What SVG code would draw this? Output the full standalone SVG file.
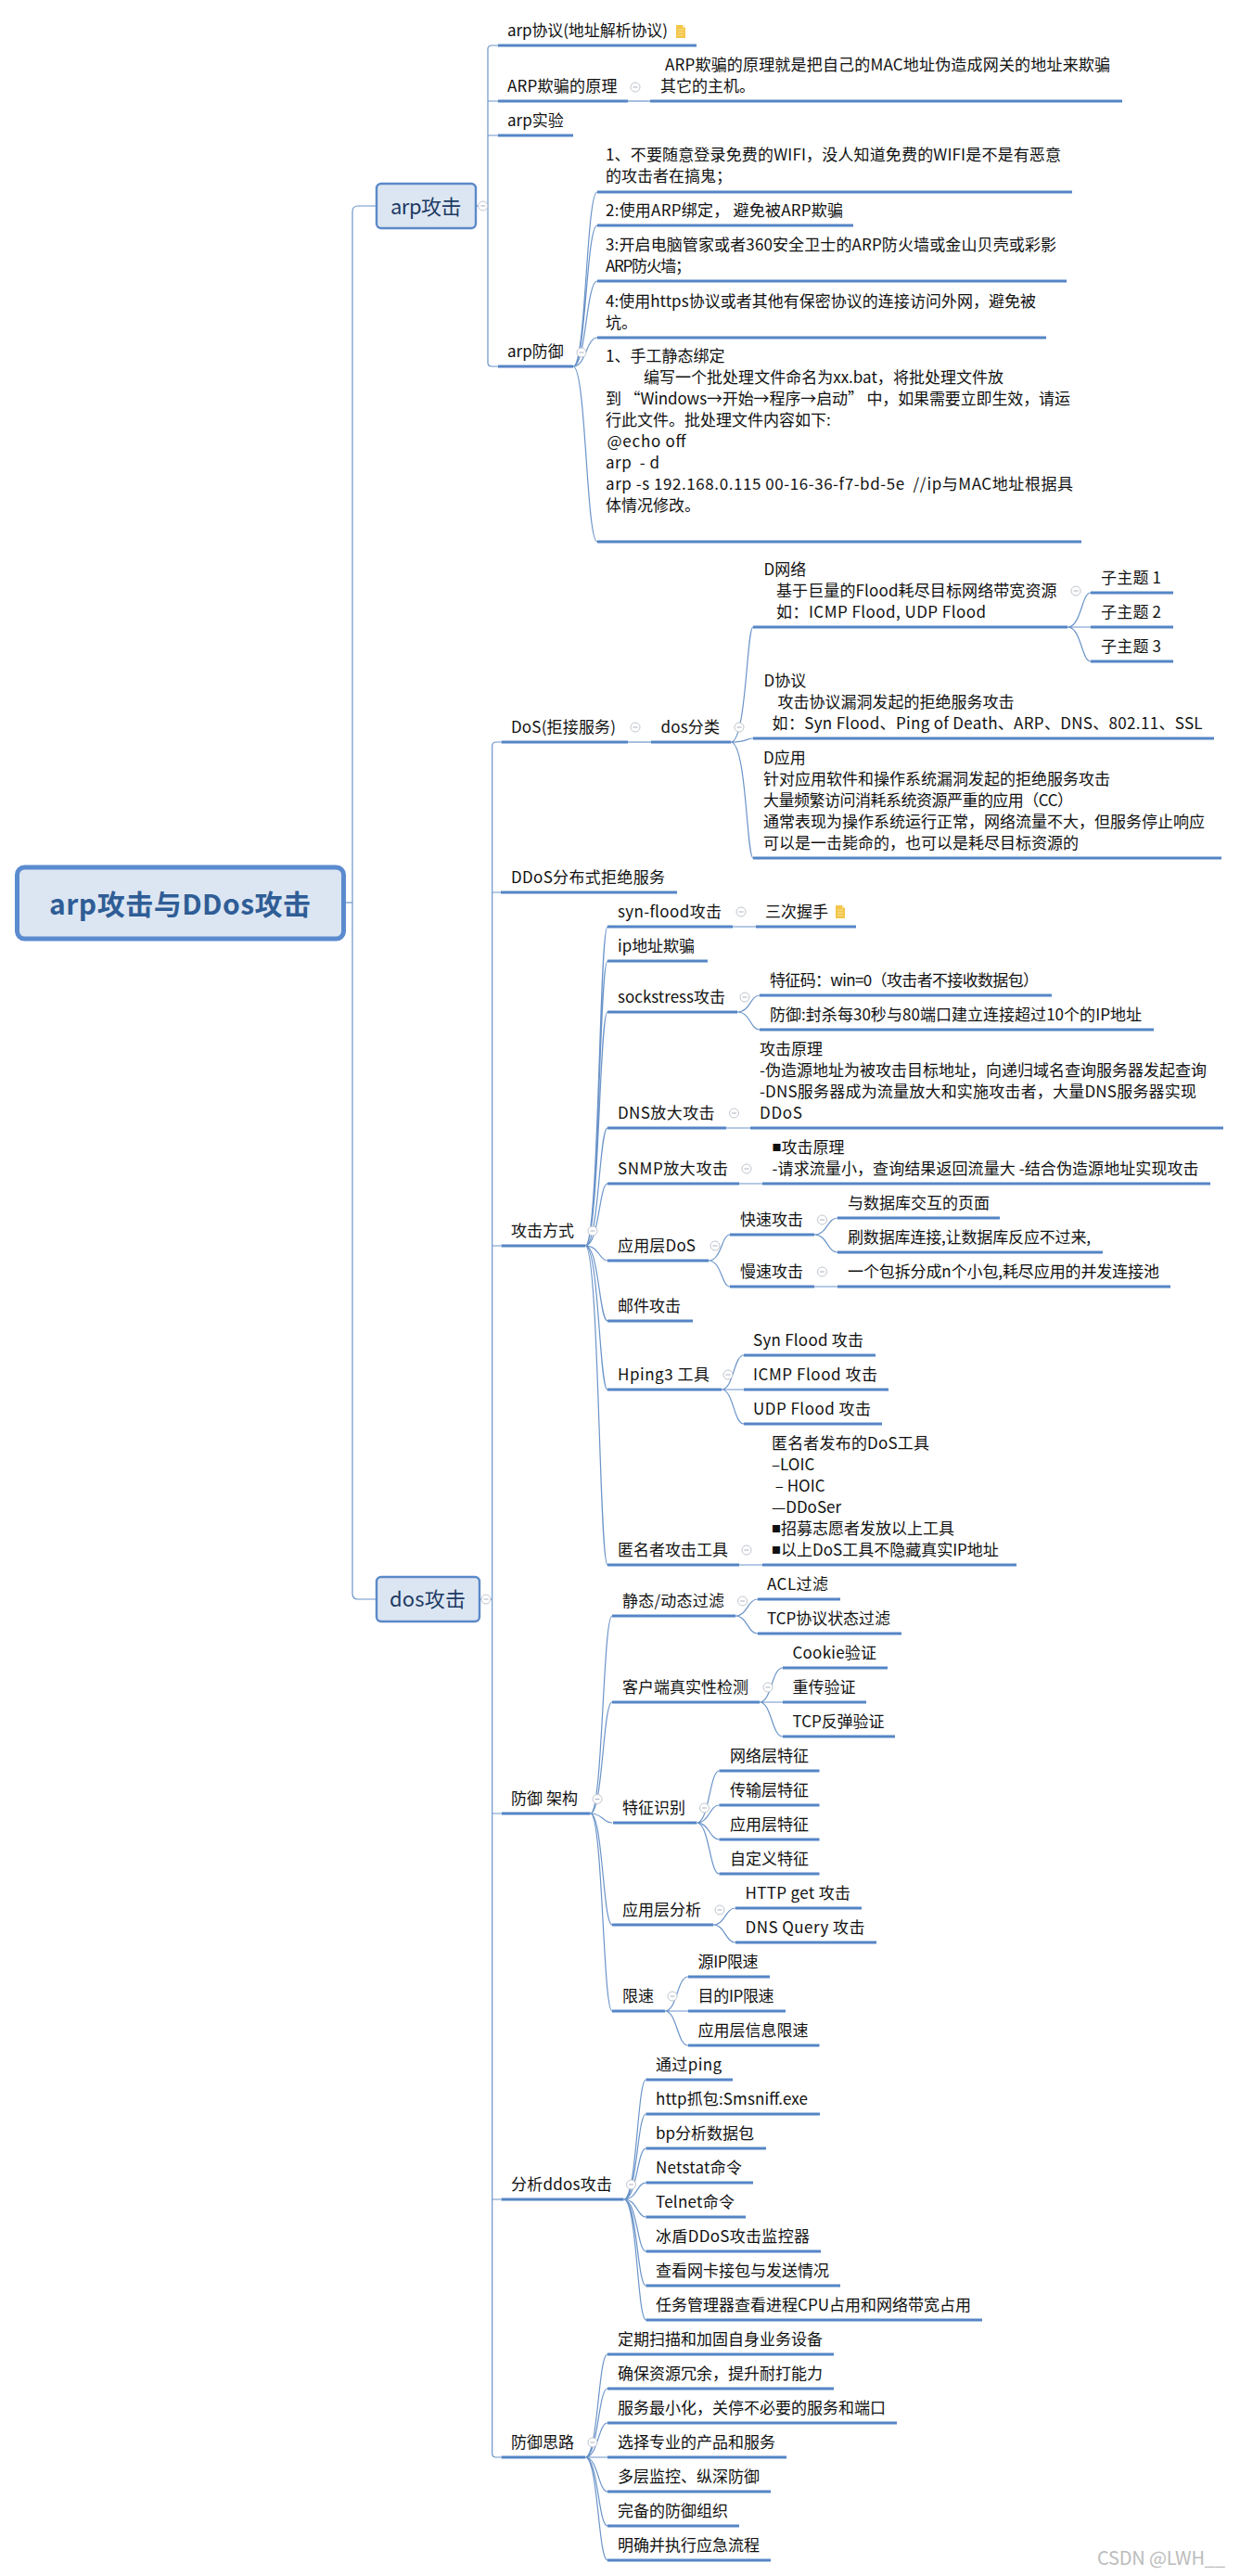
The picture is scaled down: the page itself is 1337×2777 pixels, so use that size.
<svg xmlns="http://www.w3.org/2000/svg" width="1337" height="2777" viewBox="0 0 1337 2777">
<style>
text{font-family:"Noto Sans CJK SC","Noto Sans",sans-serif;white-space:pre}
.t{font-size:17px;fill:#111}
.u{stroke:#5585c6;stroke-width:3.2;fill:none}
.c{stroke:#6b94c9;stroke-width:1.2;fill:none}
.b{fill:#dce6f2;stroke:#5b89c8;stroke-width:2.4}
.h{font-size:22px;fill:#1d3a63}
.q{font-size:10px}
</style>
<defs>
<g id="m"><circle r="5" fill="#fff" stroke="#bfc5cf" stroke-width="1"/><path d="M-2.5 0H2.5" stroke="#aab1bd" stroke-width="1"/></g>
<g id="note"><path d="M-5-7H2L5-4V7H-5Z" fill="#f3c64a"/><path d="M2-7L5-4H2Z" fill="#fbe7a8"/><path d="M-3-2H3M-3 1H3M-3 4H3" stroke="#fbe7a8" stroke-width=".8"/></g>
</defs>
<rect width="1337" height="2777" fill="#fff"/>
<g id="connectors">
<path class="c" d="M372 973H380"/>
<path class="c" d="M405 222H386Q380 222 380 228V1718Q380 1724 386 1724H405"/>
<path class="c" d="M513 222H526"/>
<path class="c" d="M537 49H530Q526 49 526 53V391Q526 395 530 395H537M526 109H537M526 146H537"/>
<path class="c" d="M677 109H701"/>
<path class="c" d="M618 395C632 395 632 207 644 207M618 395C632 395 632 243 644 243M618 395C632 395 632 303 644 303M618 395C632 395 632 364 644 364M618 395C632 395 632 584 644 584"/>
<path class="c" d="M517 1724H530.7"/>
<path class="c" d="M540 800H535Q530.7 800 530.7 804V2645Q530.7 2649 535 2649H540M530.7 962H540M530.7 1343H540M530.7 1955H541M530.7 2371H540"/>
<path class="c" d="M677 800H702"/>
<path class="c" d="M788 800C805 800 805 676 812 676M788 800C805 800 805 796 812 796M788 800C805 800 805 925 812 925"/>
<path class="c" d="M1151 676C1166 676 1166 639 1176 639M1151 676H1176M1151 676C1166 676 1166 713 1176 713"/>
<path class="c" d="M631 1343C646 1343 646 999 655 999M631 1343C646 1343 646 1036 655 1036M631 1343C646 1343 646 1091 655 1091M631 1343C646 1343 646 1216 655 1216M631 1343C646 1343 646 1276 655 1276M631 1343C646 1343 646 1359 655 1359M631 1343C646 1343 646 1424 655 1424M631 1343C646 1343 646 1498 655 1498M631 1343C646 1343 646 1687 655 1687"/>
<path class="c" d="M790 999H815M783 1216H809M797 1276H822M797 1687H822M878 1387H903"/>
<path class="c" d="M795 1091C809 1091 809 1073 819 1073M795 1091C809 1091 809 1110 819 1110"/>
<path class="c" d="M764 1359C778 1359 778 1331 787 1331M764 1359C778 1359 778 1387 787 1387"/>
<path class="c" d="M878 1331C892 1331 892 1313 903 1313M878 1331C892 1331 892 1350 903 1350"/>
<path class="c" d="M778 1498C791 1498 791 1461 802 1461M778 1498H802M778 1498C791 1498 791 1535 802 1535"/>
<path class="c" d="M636.6 1955C650 1955 650 1742 660 1742M636.6 1955C650 1955 650 1835 660 1835M636.6 1955C650 1955 650 1965 660 1965M636.6 1955C650 1955 650 2075 660 2075M636.6 1955C650 1955 650 2168 660 2168"/>
<path class="c" d="M793 1742C806 1742 806 1724 817 1724M793 1742C806 1742 806 1761 817 1761"/>
<path class="c" d="M819 1835C832 1835 832 1798 844 1798M819 1835H844M819 1835C832 1835 832 1872 844 1872"/>
<path class="c" d="M751 1965C765 1965 765 1909 775.5 1909M751 1965C765 1965 765 1946 775.5 1946M751 1965C765 1965 765 1983 775.5 1983M751 1965C765 1965 765 2020 775.5 2020"/>
<path class="c" d="M769 2075C782 2075 782 2057 793 2057M769 2075C782 2075 782 2094 793 2094"/>
<path class="c" d="M717 2168C730 2168 730 2131 742 2131M717 2168H742M717 2168C730 2168 730 2205 742 2205"/>
<path class="c" d="M672.5 2371C687 2371 687 2242 696.5 2242M672.5 2371C687 2371 687 2279 696.5 2279M672.5 2371C687 2371 687 2316 696.5 2316M672.5 2371C687 2371 687 2353 696.5 2353M672.5 2371C687 2371 687 2390 696.5 2390M672.5 2371C687 2371 687 2427 696.5 2427M672.5 2371C687 2371 687 2464 696.5 2464M672.5 2371C687 2371 687 2501 696.5 2501"/>
<path class="c" d="M631 2649C645 2649 645 2538 655 2538M631 2649C645 2649 645 2575 655 2575M631 2649C645 2649 645 2612 655 2612M631 2649H655M631 2649C645 2649 645 2686 655 2686M631 2649C645 2649 645 2723 655 2723M631 2649C645 2649 645 2760 655 2760"/>
</g>
<g id="root"><rect x="18.5" y="935" width="352" height="77" rx="8" fill="#dce6f2" stroke="#5b8bcf" stroke-width="5"/><text x="53" y="986" textLength="282" font-size="30" font-weight="700" fill="#2f5d96">arp攻击与DDos攻击</text></g>
<g id="arp"><rect class="b" x="406" y="198" width="107" height="48" rx="5"/><text class="h" x="421" y="231" textLength="76.5">arp攻击</text><use href="#m" x="520.7" y="222"/></g>
<g id="dos"><rect class="b" x="406" y="1700" width="111" height="48" rx="5"/><text class="h" x="420" y="1732" textLength="82">dos攻击</text><use href="#m" x="524" y="1724"/></g>

<g id="a1"><text class="t" x="547" y="39" textLength="173">arp协议(地址解析协议)</text><use href="#note" x="734" y="34"/><path class="u" d="M537 49H751"/></g>
<g id="a2"><text class="t" x="547" y="99" textLength="118.5">ARP欺骗的原理</text><use href="#m" x="685" y="94"/><path class="u" d="M537 109H677"/></g>
<g id="a2a"><text class="t" x="717" y="76" textLength="480">ARP欺骗的原理就是把自己的MAC地址伪造成网关的地址来欺骗</text><text class="t" x="712" y="99">其它的主机。</text><path class="u" d="M701 109H1210"/></g>
<g id="a3"><text class="t" x="547" y="136">arp实验</text><path class="u" d="M537 146H618"/></g>
<g id="a4"><text class="t" x="547" y="385">arp防御</text><use href="#m" x="627" y="380"/><path class="u" d="M537 395H618"/></g>
<g id="d1"><text class="t" x="653" y="173" textLength="491">1、不要随意登录免费的WIFI，没人知道免费的WIFI是不是有恶意</text><text class="t" x="653" y="196">的攻击者在搞鬼；</text><path class="u" d="M644 207H1156"/></g>
<g id="d2"><text class="t" x="653" y="233" textLength="256">2:使用ARP绑定， 避免被ARP欺骗</text><path class="u" d="M644 243H920"/></g>
<g id="d3"><text class="t" x="653" y="270" textLength="486">3:开启电脑管家或者360安全卫士的ARP防火墙或金山贝壳或彩影</text><text class="t" x="653" y="293" textLength="92">ARP防火墙；</text><path class="u" d="M644 303H1150"/></g>
<g id="d4"><text class="t" x="653" y="331" textLength="464">4:使用https协议或者其他有保密协议的连接访问外网，避免被</text><text class="t" x="653" y="354">坑。</text><path class="u" d="M644 364H1128"/></g>
<g id="d5"><text class="t" x="653" y="390">1、手工静态绑定</text><text class="t" x="694" y="413" textLength="388">编写一个批处理文件命名为xx.bat，将批处理文件放</text><text class="t" x="653" y="436" textLength="501">到 “Windows→开始→程序→启动” 中，如果需要立即生效，请运</text><text class="t" x="653" y="459">行此文件。批处理文件内容如下:</text><text class="t" x="654.5" y="482" textLength="85">@echo off</text><text class="t" x="653" y="505" textLength="58">arp  - d</text><text class="t" x="653" y="528" textLength="504">arp -s 192.168.0.115 00-16-36-f7-bd-5e  //ip与MAC地址根据具</text><text class="t" x="653" y="551">体情况修改。</text><path class="u" d="M644 584H1166"/></g>

<g id="b1"><text class="t" x="551" y="790" textLength="113">DoS(拒接服务)</text><use href="#m" x="685" y="784"/><path class="u" d="M540.5 800H677"/></g>
<g id="b1a"><text class="t" x="712.5" y="790" textLength="63.5">dos分类</text><use href="#m" x="797" y="784"/><path class="u" d="M702 800H788"/></g>
<g id="e1"><text class="t" x="823.5" y="620">D网络</text><text class="t" x="837" y="643" textLength="302.6">基于巨量的Flood耗尽目标网络带宽资源</text><text class="t" x="837" y="666" textLength="226">如：ICMP Flood, UDP Flood</text><use href="#m" x="1160" y="637"/><path class="u" d="M812 676H1151"/></g>
<g id="s1"><text class="t" x="1187" y="629" textLength="65">子主题 1</text><path class="u" d="M1176 639H1265"/></g>
<g id="s2"><text class="t" x="1187" y="666" textLength="65">子主题 2</text><path class="u" d="M1176 676H1265"/></g>
<g id="s3"><text class="t" x="1187" y="703" textLength="65">子主题 3</text><path class="u" d="M1176 713H1265"/></g>
<g id="e2"><text class="t" x="823.5" y="740">D协议</text><text class="t" x="838.5" y="763">攻击协议漏洞发起的拒绝服务攻击</text><text class="t" x="832.6" y="786" textLength="464">如：Syn Flood、Ping of Death、ARP、DNS、802.11、SSL</text><path class="u" d="M812 796H1309"/></g>
<g id="e3"><text class="t" x="823" y="823">D应用</text><text class="t" x="823" y="846">针对应用软件和操作系统漏洞发起的拒绝服务攻击</text><text class="t" x="823" y="869" textLength="334">大量频繁访问消耗系统资源严重的应用（CC）</text><text class="t" x="823" y="892" textLength="476">通常表现为操作系统运行正常，网络流量不大，但服务停止响应</text><text class="t" x="823" y="915">可以是一击毙命的，也可以是耗尽目标资源的</text><path class="u" d="M812 925H1317"/></g>
<g id="b2"><text class="t" x="551" y="952" textLength="166">DDoS分布式拒绝服务</text><path class="u" d="M540 962H730"/></g>

<g id="b3"><text class="t" x="551" y="1333">攻击方式</text><use href="#m" x="639" y="1327"/><path class="u" d="M540.5 1343H631"/></g>
<g id="f1"><text class="t" x="666" y="989" textLength="112">syn-flood攻击</text><use href="#m" x="799" y="983"/><path class="u" d="M655 999H790"/></g>
<g id="f1a"><text class="t" x="825" y="989">三次握手</text><use href="#note" x="906" y="983"/><path class="u" d="M815 999H923"/></g>
<g id="f2"><text class="t" x="666" y="1026" textLength="83">ip地址欺骗</text><path class="u" d="M655 1036H763"/></g>
<g id="f3"><text class="t" x="666" y="1081" textLength="116">sockstress攻击</text><use href="#m" x="803" y="1075"/><path class="u" d="M655 1091H795"/></g>
<g id="f3a"><text class="t" x="830" y="1063" textLength="290">特征码：win=0（攻击者不接收数据包）</text><path class="u" d="M819 1073H1134"/></g>
<g id="f3b"><text class="t" x="830" y="1100" textLength="401">防御:封杀每30秒与80端口建立连接超过10个的IP地址</text><path class="u" d="M819 1110H1244"/></g>
<g id="f4"><text class="t" x="666" y="1206" textLength="104.6">DNS放大攻击</text><use href="#m" x="791.5" y="1200"/><path class="u" d="M655 1216H783"/></g>
<g id="f4a"><text class="t" x="819" y="1137">攻击原理</text><text class="t" x="819" y="1160" textLength="482">-伪造源地址为被攻击目标地址，向递归域名查询服务器发起查询</text><text class="t" x="819" y="1183" textLength="471">-DNS服务器成为流量放大和实施攻击者，大量DNS服务器实现</text><text class="t" x="819" y="1206" textLength="46">DDoS</text><path class="u" d="M809 1216H1319"/></g>
<g id="f5"><text class="t" x="666" y="1266" textLength="119">SNMP放大攻击</text><use href="#m" x="805" y="1260"/><path class="u" d="M655 1276H797"/></g>
<g id="f5a"><text class="t" x="832.6" y="1243"><tspan class="q" dy="-2">■</tspan><tspan dy="2">攻击原理</tspan></text><text class="t" x="832.6" y="1266" textLength="460">-请求流量小，查询结果返回流量大 -结合伪造源地址实现攻击</text><path class="u" d="M822 1276H1305"/></g>
<g id="f6"><text class="t" x="666" y="1349" textLength="84">应用层DoS</text><use href="#m" x="771" y="1343"/><path class="u" d="M655 1359H764"/></g>
<g id="f6a"><text class="t" x="798" y="1321">快速攻击</text><use href="#m" x="886.5" y="1315"/><path class="u" d="M787 1331H878"/></g>
<g id="f6a1"><text class="t" x="914" y="1303">与数据库交互的页面</text><path class="u" d="M903 1313H1078"/></g>
<g id="f6a2"><text class="t" x="914" y="1340" textLength="262">刷数据库连接,让数据库反应不过来,</text><path class="u" d="M903 1350H1189"/></g>
<g id="f6b"><text class="t" x="798" y="1377">慢速攻击</text><use href="#m" x="886.5" y="1371"/><path class="u" d="M787 1387H878"/></g>
<g id="f6b1"><text class="t" x="914" y="1377" textLength="336">一个包拆分成n个小包,耗尽应用的并发连接池</text><path class="u" d="M903 1387H1262"/></g>
<g id="f7"><text class="t" x="666" y="1414">邮件攻击</text><path class="u" d="M655 1424H747"/></g>
<g id="f8"><text class="t" x="666" y="1488" textLength="99">Hping3 工具</text><use href="#m" x="785" y="1482"/><path class="u" d="M655 1498H778"/></g>
<g id="f8a"><text class="t" x="812" y="1451" textLength="119">Syn Flood 攻击</text><path class="u" d="M802 1461H944"/></g>
<g id="f8b"><text class="t" x="812" y="1488" textLength="134">ICMP Flood 攻击</text><path class="u" d="M802 1498H958"/></g>
<g id="f8c"><text class="t" x="812" y="1525" textLength="127">UDP Flood 攻击</text><path class="u" d="M802 1535H951"/></g>
<g id="f9"><text class="t" x="666" y="1677">匿名者攻击工具</text><use href="#m" x="805" y="1671"/><path class="u" d="M655 1687H797"/></g>
<g id="f9a"><text class="t" x="832" y="1562" textLength="170">匿名者发布的DoS工具</text><text class="t" x="832" y="1585">–LOIC</text><text class="t" x="832" y="1608"> – HOIC</text><text class="t" x="832" y="1631">—DDoSer</text><text class="t" x="832" y="1654"><tspan class="q" dy="-2">■</tspan><tspan dy="2">招募志愿者发放以上工具</tspan></text><text class="t" x="832" y="1677"><tspan class="q" dy="-2">■</tspan><tspan dy="2">以上DoS工具不隐藏真实IP地址</tspan></text><path class="u" d="M822 1687H1096"/></g>

<g id="b4"><text class="t" x="551" y="1945" textLength="72">防御 架构</text><use href="#m" x="644" y="1939.5"/><path class="u" d="M541 1955H636.6"/></g>
<g id="g1"><text class="t" x="671" y="1732" textLength="110">静态/动态过滤</text><use href="#m" x="800.6" y="1726"/><path class="u" d="M660 1742H793"/></g>
<g id="g1a"><text class="t" x="827" y="1714" textLength="66">ACL过滤</text><path class="u" d="M817 1724H906"/></g>
<g id="g1b"><text class="t" x="827" y="1751" textLength="133">TCP协议状态过滤</text><path class="u" d="M817 1761H972"/></g>
<g id="g2"><text class="t" x="671" y="1825">客户端真实性检测</text><use href="#m" x="828" y="1819"/><path class="u" d="M660 1835H819"/></g>
<g id="g2a"><text class="t" x="854.5" y="1788" textLength="90.5">Cookie验证</text><path class="u" d="M844 1798H957"/></g>
<g id="g2b"><text class="t" x="854.5" y="1825">重传验证</text><path class="u" d="M844 1835H934"/></g>
<g id="g2c"><text class="t" x="854.5" y="1862" textLength="99">TCP反弹验证</text><path class="u" d="M844 1872H965"/></g>
<g id="g3"><text class="t" x="671" y="1955">特征识别</text><use href="#m" x="759.5" y="1949"/><path class="u" d="M661 1965H751"/></g>
<g id="g3a"><text class="t" x="787" y="1899">网络层特征</text><path class="u" d="M775.5 1909H883.5"/></g>
<g id="g3b"><text class="t" x="787" y="1936">传输层特征</text><path class="u" d="M775.5 1946H883.5"/></g>
<g id="g3c"><text class="t" x="787" y="1973">应用层特征</text><path class="u" d="M775.5 1983H883.5"/></g>
<g id="g3d"><text class="t" x="787" y="2010">自定义特征</text><path class="u" d="M775.5 2020H883.5"/></g>
<g id="g4"><text class="t" x="671" y="2065">应用层分析</text><use href="#m" x="776" y="2059"/><path class="u" d="M660 2075H769"/></g>
<g id="g4a"><text class="t" x="803.5" y="2047" textLength="113.5">HTTP get 攻击</text><path class="u" d="M793 2057H929"/></g>
<g id="g4b"><text class="t" x="803.5" y="2084" textLength="129">DNS Query 攻击</text><path class="u" d="M793 2094H945"/></g>
<g id="g5"><text class="t" x="671" y="2158">限速</text><use href="#m" x="725" y="2152"/><path class="u" d="M660 2168H717"/></g>
<g id="g5a"><text class="t" x="752.6" y="2121" textLength="65">源IP限速</text><path class="u" d="M742 2131H830"/></g>
<g id="g5b"><text class="t" x="752.6" y="2158" textLength="82">目的IP限速</text><path class="u" d="M742 2168H847"/></g>
<g id="g5c"><text class="t" x="752.6" y="2195">应用层信息限速</text><path class="u" d="M742 2205H883.5"/></g>

<g id="b5"><text class="t" x="551" y="2361" textLength="109">分析ddos攻击</text><use href="#m" x="680.5" y="2355"/><path class="u" d="M540.5 2371H672.5"/></g>
<g id="h1"><text class="t" x="707" y="2232" textLength="71">通过ping</text><path class="u" d="M696.5 2242H790"/></g>
<g id="h2"><text class="t" x="707" y="2269" textLength="164">http抓包:Smsniff.exe</text><path class="u" d="M696.5 2279H884"/></g>
<g id="h3"><text class="t" x="707" y="2306" textLength="106">bp分析数据包</text><path class="u" d="M696.5 2316H826"/></g>
<g id="h4"><text class="t" x="707" y="2343" textLength="93">Netstat命令</text><path class="u" d="M696.5 2353H812"/></g>
<g id="h5"><text class="t" x="707" y="2380" textLength="85">Telnet命令</text><path class="u" d="M696.5 2390H804"/></g>
<g id="h6"><text class="t" x="707" y="2417" textLength="166">冰盾DDoS攻击监控器</text><path class="u" d="M696.5 2427H885"/></g>
<g id="h7"><text class="t" x="707" y="2454">查看网卡接包与发送情况</text><path class="u" d="M696.5 2464H906"/></g>
<g id="h8"><text class="t" x="707" y="2491" textLength="340">任务管理器查看进程CPU占用和网络带宽占用</text><path class="u" d="M696.5 2501H1059"/></g>

<g id="b6"><text class="t" x="551" y="2639">防御思路</text><use href="#m" x="639" y="2633"/><path class="u" d="M540.5 2649H631"/></g>
<g id="i1"><text class="t" x="666" y="2528">定期扫描和加固自身业务设备</text><path class="u" d="M655 2538H899"/></g>
<g id="i2"><text class="t" x="666" y="2565">确保资源冗余，提升耐打能力</text><path class="u" d="M655 2575H899"/></g>
<g id="i3"><text class="t" x="666" y="2602">服务最小化，关停不必要的服务和端口</text><path class="u" d="M655 2612H967"/></g>
<g id="i4"><text class="t" x="666" y="2639">选择专业的产品和服务</text><path class="u" d="M655 2649H848"/></g>
<g id="i5"><text class="t" x="666" y="2676">多层监控、纵深防御</text><path class="u" d="M655 2686H831"/></g>
<g id="i6"><text class="t" x="666" y="2713">完备的防御组织</text><path class="u" d="M655 2723H797"/></g>
<g id="i7"><text class="t" x="666" y="2750">明确并执行应急流程</text><path class="u" d="M655 2760H831"/></g>
<text id="watermark" x="1183" y="2765" font-size="20" fill="#bcbcbc" textLength="138">CSDN @LWH__</text>
</svg>
